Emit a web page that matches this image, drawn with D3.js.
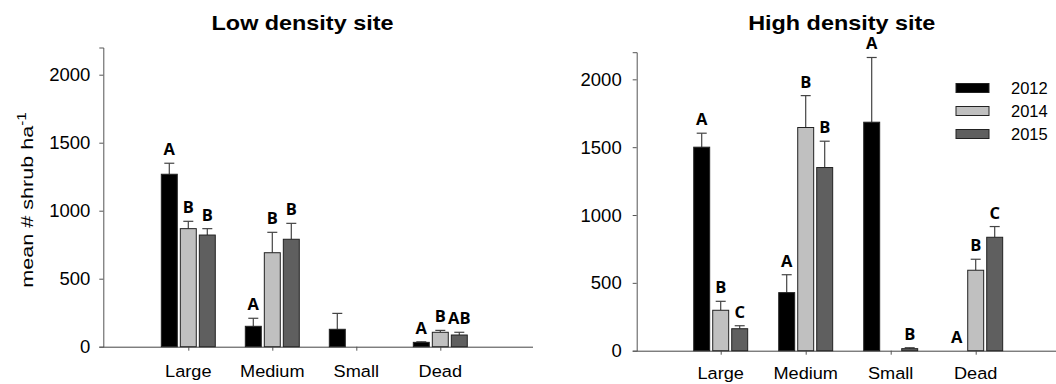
<!DOCTYPE html>
<html>
<head>
<meta charset="utf-8">
<script src="https://cdn.jsdelivr.net/npm/d3@7"></script>
<style>
  body { margin: 0; background: #fff; }
  svg { display: block; }
</style>
</head>
<body>
<script>
// categories and years
const categories = ["Large", "Medium", "Small", "Dead"];
const years = ["2012", "2014", "2015"];
const yTicks = [0, 500, 1000, 1500, 2000];

// low density site: means and standard errors
const low2012 = [1268, 150, 128, 32];
const low2014 = [868, 691, 0, 106];
const low2015 = [821, 790, 0, 86];
const low2012Err = [81, 59, 117, 4];
const low2014Err = [54, 150, 0, 14];
const low2015Err = [47, 117, 0, 20];
const lowLetters = [["A", "B", "B"], ["A", "B", "B"], ["", "", ""], ["A", "B", "AB"]];

// high density site
const high2012 = [1500, 428, 1684, 0];
const high2014 = [298, 1645, 0, 593];
const high2015 = [162, 1350, 15, 836];
const high2012Err = [103, 132, 477, 0];
const high2014Err = [66, 235, 0, 81];
const high2015Err = [22, 194, 7, 79];
const highLetters = [["A", "B", "C"], ["A", "B", "B"], ["A", "", "B"], ["A", "B", "C"]];

const colors = {"2012": "#000000", "2014": "#c0c0c0", "2015": "#5f5f5f"};
const sansFont = "'Liberation Sans', Arial, sans-serif";
const letterFont = "'Open Sans', sans-serif";

const svg = d3.select("body").append("svg")
  .attr("width", 1056).attr("height", 384);

// text helper, stretch = horizontal scale of the glyphs
function addText(g, x, y, str, size, anchor, weight, stretch) {
  return g.append("text")
    .attr("transform", `translate(${x},${y}) scale(${stretch},1)`)
    .attr("text-anchor", anchor)
    .style("font-family", sansFont)
    .style("font-size", size + "px")
    .style("font-weight", weight)
    .text(str);
}

function drawPanel(p) {
  const g = svg.append("g");
  const y = d3.scaleLinear().domain([0, 2200]).range([p.y0, p.yTop]);
  const x = d3.scalePoint().domain(categories)
    .range([p.x0 + p.first, p.x0 + p.first + 3 * p.step]);
  const inner = d3.scaleBand().domain(years).range([-28.5, 28.5])
    .paddingInner(0.16).paddingOuter(0.08);

  // title
  addText(g, p.titleX, 30, p.title, 19.5, "middle", "bold", 1.2);

  // y axis
  const yAxis = g.append("g").attr("transform", `translate(${p.x0},0)`)
    .call(d3.axisLeft(y).tickValues(yTicks).tickSize(4).tickFormat(""));
  yAxis.select(".domain").attr("stroke", "#555");
  yAxis.selectAll(".tick line").attr("stroke", "#555");
  yTicks.forEach(t => {
    addText(g, p.x0 - p.labelGap, y(t) + 6.6, String(t), 18.5, "end", "normal", 1);
  });

  // x axis
  g.append("line")
    .attr("x1", p.x0).attr("x2", p.xEnd)
    .attr("y1", p.y0 + 0.5).attr("y2", p.y0 + 0.5)
    .attr("stroke", "#444");
  const xAxis = g.append("g").attr("transform", `translate(0,${p.y0})`)
    .call(d3.axisBottom(x).tickSize(4).tickFormat(""));
  xAxis.select(".domain").remove();
  xAxis.selectAll(".tick line").attr("stroke", "#555");
  categories.forEach(c => {
    addText(g, x(c), p.y0 + p.catGap, c, 16.5, "middle", "normal", 1.1);
  });

  // bars, error bars, letters
  const rows = [];
  categories.forEach((c, i) => {
    years.forEach((yr, j) => {
      rows.push({cat: c, year: yr, v: p.means[j][i], e: p.errs[j][i], letter: p.letters[i][j]});
    });
  });
  const cx = d => x(d.cat) + inner(d.year) + inner.bandwidth() / 2;

  const bars = g.append("g");
  const withBar = rows.filter(d => d.v > 0);
  bars.selectAll("line.err")
    .data(withBar.filter(d => d.e > 0))
    .join("line")
    .attr("class", "err")
    .attr("x1", cx).attr("x2", cx)
    .attr("y1", d => y(d.v))
    .attr("y2", d => y(d.v + d.e))
    .attr("stroke", "#444").attr("stroke-width", 1.2);
  bars.selectAll("line.cap")
    .data(withBar.filter(d => d.e > 0))
    .join("line")
    .attr("class", "cap")
    .attr("x1", d => cx(d) - 5)
    .attr("x2", d => cx(d) + 5)
    .attr("y1", d => y(d.v + d.e))
    .attr("y2", d => y(d.v + d.e))
    .attr("stroke", "#444").attr("stroke-width", 1.2);
  bars.selectAll("rect")
    .data(withBar)
    .join("rect")
    .attr("x", d => x(d.cat) + inner(d.year))
    .attr("y", d => y(d.v))
    .attr("width", inner.bandwidth())
    .attr("height", d => p.y0 - y(d.v))
    .attr("fill", d => colors[d.year])
    .attr("stroke", "#222").attr("stroke-width", 1);

  g.selectAll("text.letter")
    .data(rows.filter(d => d.letter))
    .join("text")
    .attr("class", "letter")
    .attr("x", cx)
    .attr("y", d => y(d.v + d.e) - 8)
    .attr("text-anchor", "middle")
    .style("font-family", letterFont)
    .style("font-weight", "bold")
    .style("font-size", "16.5px")
    .text(d => d.letter);
  return g;
}

drawPanel({
  title: "Low density site", titleX: 302.5,
  x0: 103.3, y0: 346.7, yTop: 47.5, first: 85, step: 84, xEnd: 533, labelGap: 13, catGap: 30,
  means: [low2012, low2014, low2015],
  errs: [low2012Err, low2014Err, low2015Err],
  letters: lowLetters
});

drawPanel({
  title: "High density site", titleX: 841.7,
  x0: 636.7, y0: 350.7, yTop: 52.2, first: 84, step: 85, xEnd: 1060, labelGap: 15, catGap: 28,
  means: [high2012, high2014, high2015],
  errs: [high2012Err, high2014Err, high2015Err],
  letters: highLetters
});

// y axis title (left panel)
const ylab = svg.append("text")
  .attr("transform", "translate(33,200) rotate(-90) scale(1.27,1)")
  .attr("text-anchor", "middle")
  .style("font-family", sansFont)
  .style("font-size", "17px");
ylab.append("tspan").text("mean # shrub ha");
ylab.append("tspan").attr("dy", -7).style("font-size", "12px").text("-1");

// legend
const legend = svg.append("g");
years.forEach((yr, i) => {
  legend.append("rect")
    .attr("x", 956).attr("y", 83.5 + i * 23)
    .attr("width", 33).attr("height", 9)
    .attr("fill", colors[yr]).attr("stroke", "#222");
  addText(legend, 1011, 94 + i * 23, yr, 16.5, "start", "normal", 1);
});
</script>
</body>
</html>
